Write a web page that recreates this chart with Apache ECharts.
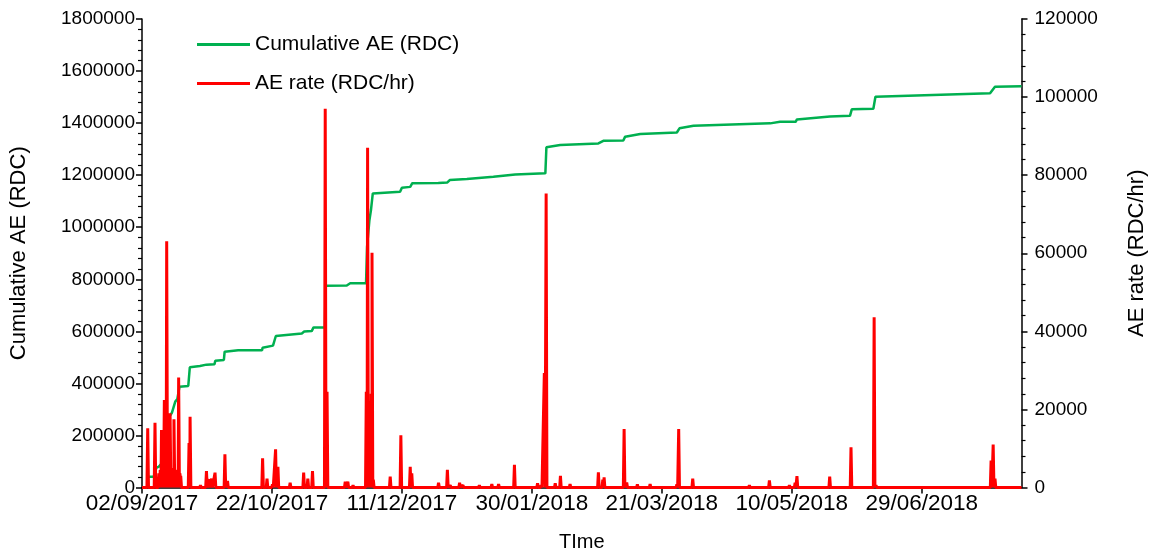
<!DOCTYPE html>
<html>
<head>
<meta charset="utf-8">
<script src="https://cdn.jsdelivr.net/npm/echarts@6/dist/echarts.min.js"></script>
<style>
html,body{margin:0;padding:0;background:#fff;}
#chart{width:1150px;height:559px;}
</style>
</head>
<body>
<div id="chart"></div>
<script>
// Day offsets are counted from 02/09/2017
const START_UTC = Date.UTC(2017, 8, 2);
const X_MAX_DAY = 338.4;
const X_TICK_DAYS = [0, 50, 100, 150, 200, 250, 300];

const LEFT_TICKS = [0, 200000, 400000, 600000, 800000, 1000000, 1200000, 1400000, 1600000, 1800000];
const RIGHT_TICKS = [0, 20000, 40000, 60000, 80000, 100000, 120000];

// Cumulative AE (RDC): [day, value]
const cumDays = [2.2, 4.5, 5.5, 6.5, 7.7, 8.8, 10.4, 11.5, 12.8, 13.6, 14.4, 17.8, 18.4, 22.3, 24.8, 27.9, 28.2, 31.5, 31.8, 37, 46.2, 46.4, 50.4, 51.5, 61.5, 62.4, 65.3, 66, 70.4, 70.6, 78.8, 80.1, 86.2, 86.6, 87.5, 88.1, 88.8, 99.3, 100, 103.2, 104, 114, 117.5, 118.4, 125, 135.2, 143.6, 155.2, 155.6, 160.9, 175.6, 177.5, 185.2, 185.9, 191.7, 205.8, 206.8, 212.2, 241.7, 245.5, 251.5, 252, 264.7, 272.4, 273.1, 281.4, 282.2, 326.3, 328.2, 338.4];
const cumValues = [41000, 41000, 75000, 80000, 94000, 200000, 270000, 287000, 330000, 340000, 387000, 390000, 462000, 467000, 472000, 474000, 487000, 490000, 522000, 527000, 527000, 537000, 545000, 582000, 592000, 599000, 601000, 615000, 615000, 775000, 776000, 784500, 785000, 925000, 1027000, 1066000, 1130000, 1136000, 1152000, 1155000, 1169000, 1170000, 1172000, 1181000, 1185000, 1194000, 1203000, 1207000, 1307000, 1316000, 1322000, 1332000, 1333000, 1348000, 1358000, 1364000, 1380000, 1390000, 1399000, 1405000, 1405000, 1414000, 1425000, 1428000, 1453000, 1455000, 1501000, 1514500, 1540000, 1542000];

// AE rate (RDC/hr) peaks: [day, value]; the rate is ~0 between peaks
const rateDays = [2.2, 5.0, 6.5, 7.0, 7.5, 8.0, 8.6, 9.0, 9.5, 10.0, 10.4, 10.8, 11.2, 11.6, 12.0, 12.3, 12.7, 13.1, 13.6, 14.1, 14.6, 14.9, 18.1, 18.5, 22.5, 24.8, 26.1, 26.8, 28.1, 31.9, 32.9, 37, 38.5, 46.4, 48.1, 50.2, 51.4, 52.3, 57, 60.2, 62.2, 63.8, 65.6, 70.5, 71.2, 73.7, 78.2, 79.2, 81.2, 86.3, 86.8, 87.3, 87.8, 88.2, 88.5, 89.0, 95.5, 99.6, 100.4, 103.2, 103.8, 111.5, 114.1, 117.5, 118.6, 122.2, 123.5, 129.8, 134.6, 137.2, 143.3, 152.2, 153.6, 154.8, 155.5, 159, 161, 164.7, 169.8, 175.6, 177.3, 177.8, 185.5, 186.5, 190.6, 195.5, 199.6, 205.8, 206.5, 211.9, 214, 224.3, 233.7, 241.4, 245.5, 249.1, 251.3, 252, 255.5, 264.6, 272.8, 281.7, 282.4, 286.9, 293.3, 317, 326.7, 327.5, 328.2, 336];
const rateValues = [15200, 16600, 3600, 4500, 14700, 5000, 22400, 4800, 63100, 4500, 5000, 19000, 4500, 5000, 4500, 17500, 4500, 4500, 4000, 28200, 3600, 3000, 11400, 18100, 600, 4200, 2100, 2300, 3800, 8500, 1700, 500, 400, 7500, 2300, 800, 9800, 5300, 1200, 400, 3800, 2300, 4200, 97000, 24500, 400, 1500, 1500, 600, 24500, 87000, 22000, 19400, 24000, 60100, 2000, 2800, 13400, 500, 5300, 3600, 300, 1200, 4500, 600, 1200, 600, 600, 900, 900, 5800, 1100, 600, 29300, 75300, 1100, 3000, 900, 500, 3900, 2000, 2600, 15000, 1300, 800, 900, 500, 800, 15000, 2300, 500, 400, 600, 1800, 500, 600, 1200, 2900, 500, 2800, 10300, 43600, 600, 400, 400, 400, 6900, 11000, 2300, 300];

const cumData = cumDays.map((d, i) => [d, cumValues[i]]);
const HALF = 0.3;
const rateData = [[0, 0]];
rateDays.forEach((d, i) => {
  rateData.push([d - HALF, 0], [d, rateValues[i]], [d + HALF, 0]);
});
rateData.push([X_MAX_DAY, 0]);

function fmtDay(v) {
  const dt = new Date(START_UTC + Math.round(v) * 86400000);
  const dd = String(dt.getUTCDate()).padStart(2, '0');
  const mm = String(dt.getUTCMonth() + 1).padStart(2, '0');
  return dd + '/' + mm + '/' + dt.getUTCFullYear();
}
function fmtNum(v) { return String(Math.round(v)); }

const FONT = 'Liberation Sans, Arial, sans-serif';
const axisLineStyle = { color: '#000', width: 1.5 };

const chart = echarts.init(document.getElementById('chart'), null, { renderer: 'canvas' });
chart.setOption({
  animation: false,
  backgroundColor: '#fff',
  textStyle: { fontFamily: FONT, color: '#000' },
  grid: { left: 142, right: 128.5, top: 19, bottom: 71.5, containLabel: false, outerBoundsMode: 'none' },
  legend: {
    orient: 'vertical',
    left: 197,
    top: 34,
    padding: 0,
    itemWidth: 53,
    itemHeight: 3,
    itemGap: 18,
    icon: 'rect',
    textStyle: { fontSize: 21, color: '#000', fontFamily: FONT },
    data: ['Cumulative AE (RDC)', 'AE rate (RDC/hr)']
  },
  xAxis: {
    type: 'value',
    min: 0,
    max: X_MAX_DAY,
    interval: 50,
    name: 'TIme',
    nameLocation: 'middle',
    nameGap: 45,
    nameTextStyle: { fontSize: 20, color: '#000', fontFamily: FONT },
    axisLine: { show: true, onZero: false, lineStyle: axisLineStyle },
    axisTick: { show: true, inside: false, length: 6, lineStyle: { color: '#000', width: 1.5 }, customValues: X_TICK_DAYS },
    axisLabel: { fontSize: 22.5, color: '#000', fontFamily: FONT, margin: 5, customValues: X_TICK_DAYS, formatter: fmtDay },
    splitLine: { show: false }
  },
  yAxis: [
    {
      type: 'value',
      position: 'left',
      min: 0,
      max: 1800000,
      interval: 200000,
      name: 'Cumulative AE (RDC)',
      nameLocation: 'middle',
      nameRotate: 90,
      nameGap: 112,
      nameTextStyle: { fontSize: 22, color: '#000', fontFamily: FONT },
      axisLine: { show: true, lineStyle: axisLineStyle },
      axisTick: { show: true, inside: false, length: 6, lineStyle: { color: '#000', width: 1.5 }, customValues: LEFT_TICKS },
      minorTick: { show: true, splitNumber: 5, length: 4, lineStyle: { color: '#000', width: 1.2 } },
      axisLabel: { fontSize: 19, color: '#000', fontFamily: FONT, margin: 7, customValues: LEFT_TICKS, formatter: fmtNum },
      splitLine: { show: false },
      minorSplitLine: { show: false }
    },
    {
      type: 'value',
      position: 'right',
      min: 0,
      max: 120000,
      interval: 20000,
      name: 'AE rate (RDC/hr)',
      nameLocation: 'middle',
      nameRotate: 90,
      nameGap: 104,
      nameTextStyle: { fontSize: 22, color: '#000', fontFamily: FONT },
      axisLine: { show: true, lineStyle: axisLineStyle },
      axisTick: { show: true, inside: false, length: 6, lineStyle: { color: '#000', width: 1.5 }, customValues: RIGHT_TICKS },
      minorTick: { show: true, splitNumber: 5, length: 4, lineStyle: { color: '#000', width: 1.2 } },
      axisLabel: { fontSize: 19, color: '#000', fontFamily: FONT, margin: 13, customValues: RIGHT_TICKS, formatter: fmtNum },
      splitLine: { show: false },
      minorSplitLine: { show: false }
    }
  ],
  series: [
    {
      name: 'Cumulative AE (RDC)',
      type: 'line',
      yAxisIndex: 0,
      data: cumData,
      symbol: 'none',
      color: '#00B050',
      lineStyle: { color: '#00B050', width: 2.5 },
      z: 2
    },
    {
      name: 'AE rate (RDC/hr)',
      type: 'line',
      yAxisIndex: 1,
      data: rateData,
      symbol: 'none',
      color: '#FF0000',
      lineStyle: { color: '#FF0000', width: 3 },
      z: 3
    }
  ]
});
</script>
</body>
</html>
